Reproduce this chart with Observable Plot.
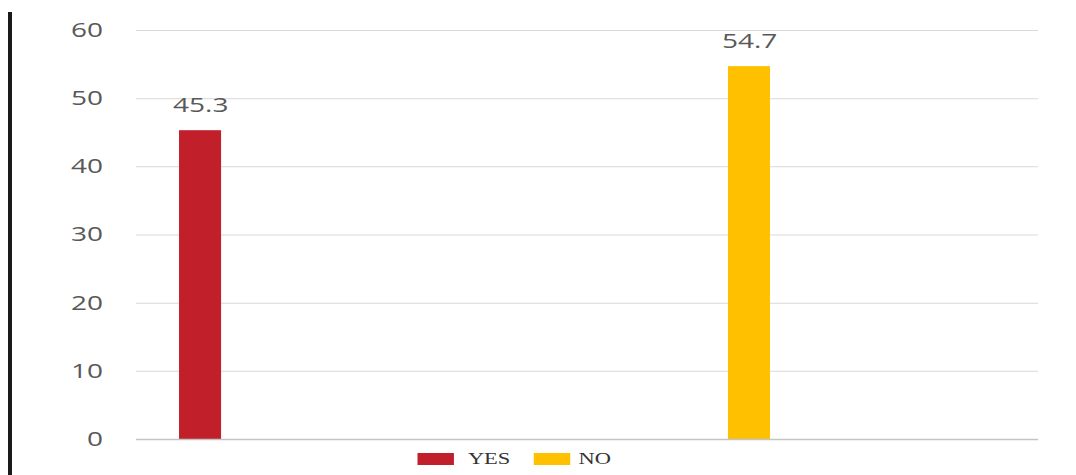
<!DOCTYPE html>
<html>
<head>
<meta charset="utf-8">
<script src="https://cdn.jsdelivr.net/npm/d3@7"></script>
<script src="https://cdn.jsdelivr.net/npm/@observablehq/plot@0.6"></script>
<style>
  html, body { margin: 0; padding: 0; background: #fff; }
  #page { position: relative; width: 1076px; height: 475px; overflow: hidden; }
  #bar { position: absolute; left: 8px; top: 12px; width: 4px; height: 463px; background: #1a1a1a; }
  #wrap { position: absolute; left: 0; top: 0; width: 768px; transform: scaleX(1.401); transform-origin: 0 0; }
  #legend { position: relative; height: 19px; font-family: "Liberation Serif", "Times New Roman", serif; font-size: 16px; color: #333; }
  #legend .sw { position: absolute; top: -3px; width: 26px; height: 12px; }
  #legend .lb { position: absolute; top: -6px; line-height: 18px; }
</style>
</head>
<body>
<div id="page">
  <div id="bar"></div>
  <div id="wrap">
    <div id="chart"></div>
    <div id="legend"></div>
  </div>
</div>
<script>
const categories = ["YES", "NO"];
const values = [45.3, 54.7];
const colors = ["#C1202B", "#FFC000"];
const yTicks = [0, 10, 20, 30, 40, 50, 60];

// layout (not data): horizontal slot centres within the plot area and half bar width
const slotCenter = [0.0711, 0.6795];
const halfWidth = 0.0233;

const data = categories.map((c, i) => ({category: c, value: values[i], center: slotCenter[i]}));

const chart = Plot.plot({
  width: 768,
  height: 456,
  marginLeft: 97,
  marginRight: 27,
  marginTop: 30,
  marginBottom: 17,
  style: {fontFamily: "'Open Sans', sans-serif", color: "#595959", background: "transparent", overflow: "visible"},
  x: {domain: [0, 1], axis: null},
  y: {domain: [0, 60], axis: null},
  color: {domain: categories, range: colors},
  marks: [
    Plot.gridY(yTicks.filter(t => t !== 0), {stroke: "#d9d9d9", strokeOpacity: 1}),
    Plot.rectY(data, {x1: d => d.center - halfWidth, x2: d => d.center + halfWidth, y1: 0, y2: "value", fill: "category"}),
    Plot.ruleY([0], {stroke: "#c4c4c4", strokeWidth: 1.3}),
    Plot.axisY(yTicks, {tickSize: 0, tickPadding: 24, fontSize: 20, fill: "#595959", label: null}),
    Plot.text(data, {x: "center", y: "value", text: d => d.value.toFixed(1), dy: -25, fontSize: 20, fill: "#595959"})
  ]
});
document.getElementById("chart").appendChild(chart);

const legend = document.getElementById("legend");
const swLeft = [298, 381];
const lbLeft = [334, 413];
categories.forEach((c, i) => {
  const sw = document.createElement("div");
  sw.className = "sw";
  sw.style.left = swLeft[i] + "px";
  sw.style.background = colors[i];
  legend.appendChild(sw);
  const lb = document.createElement("div");
  lb.className = "lb";
  lb.style.left = lbLeft[i] + "px";
  lb.textContent = c;
  legend.appendChild(lb);
});
</script>
</body>
</html>
